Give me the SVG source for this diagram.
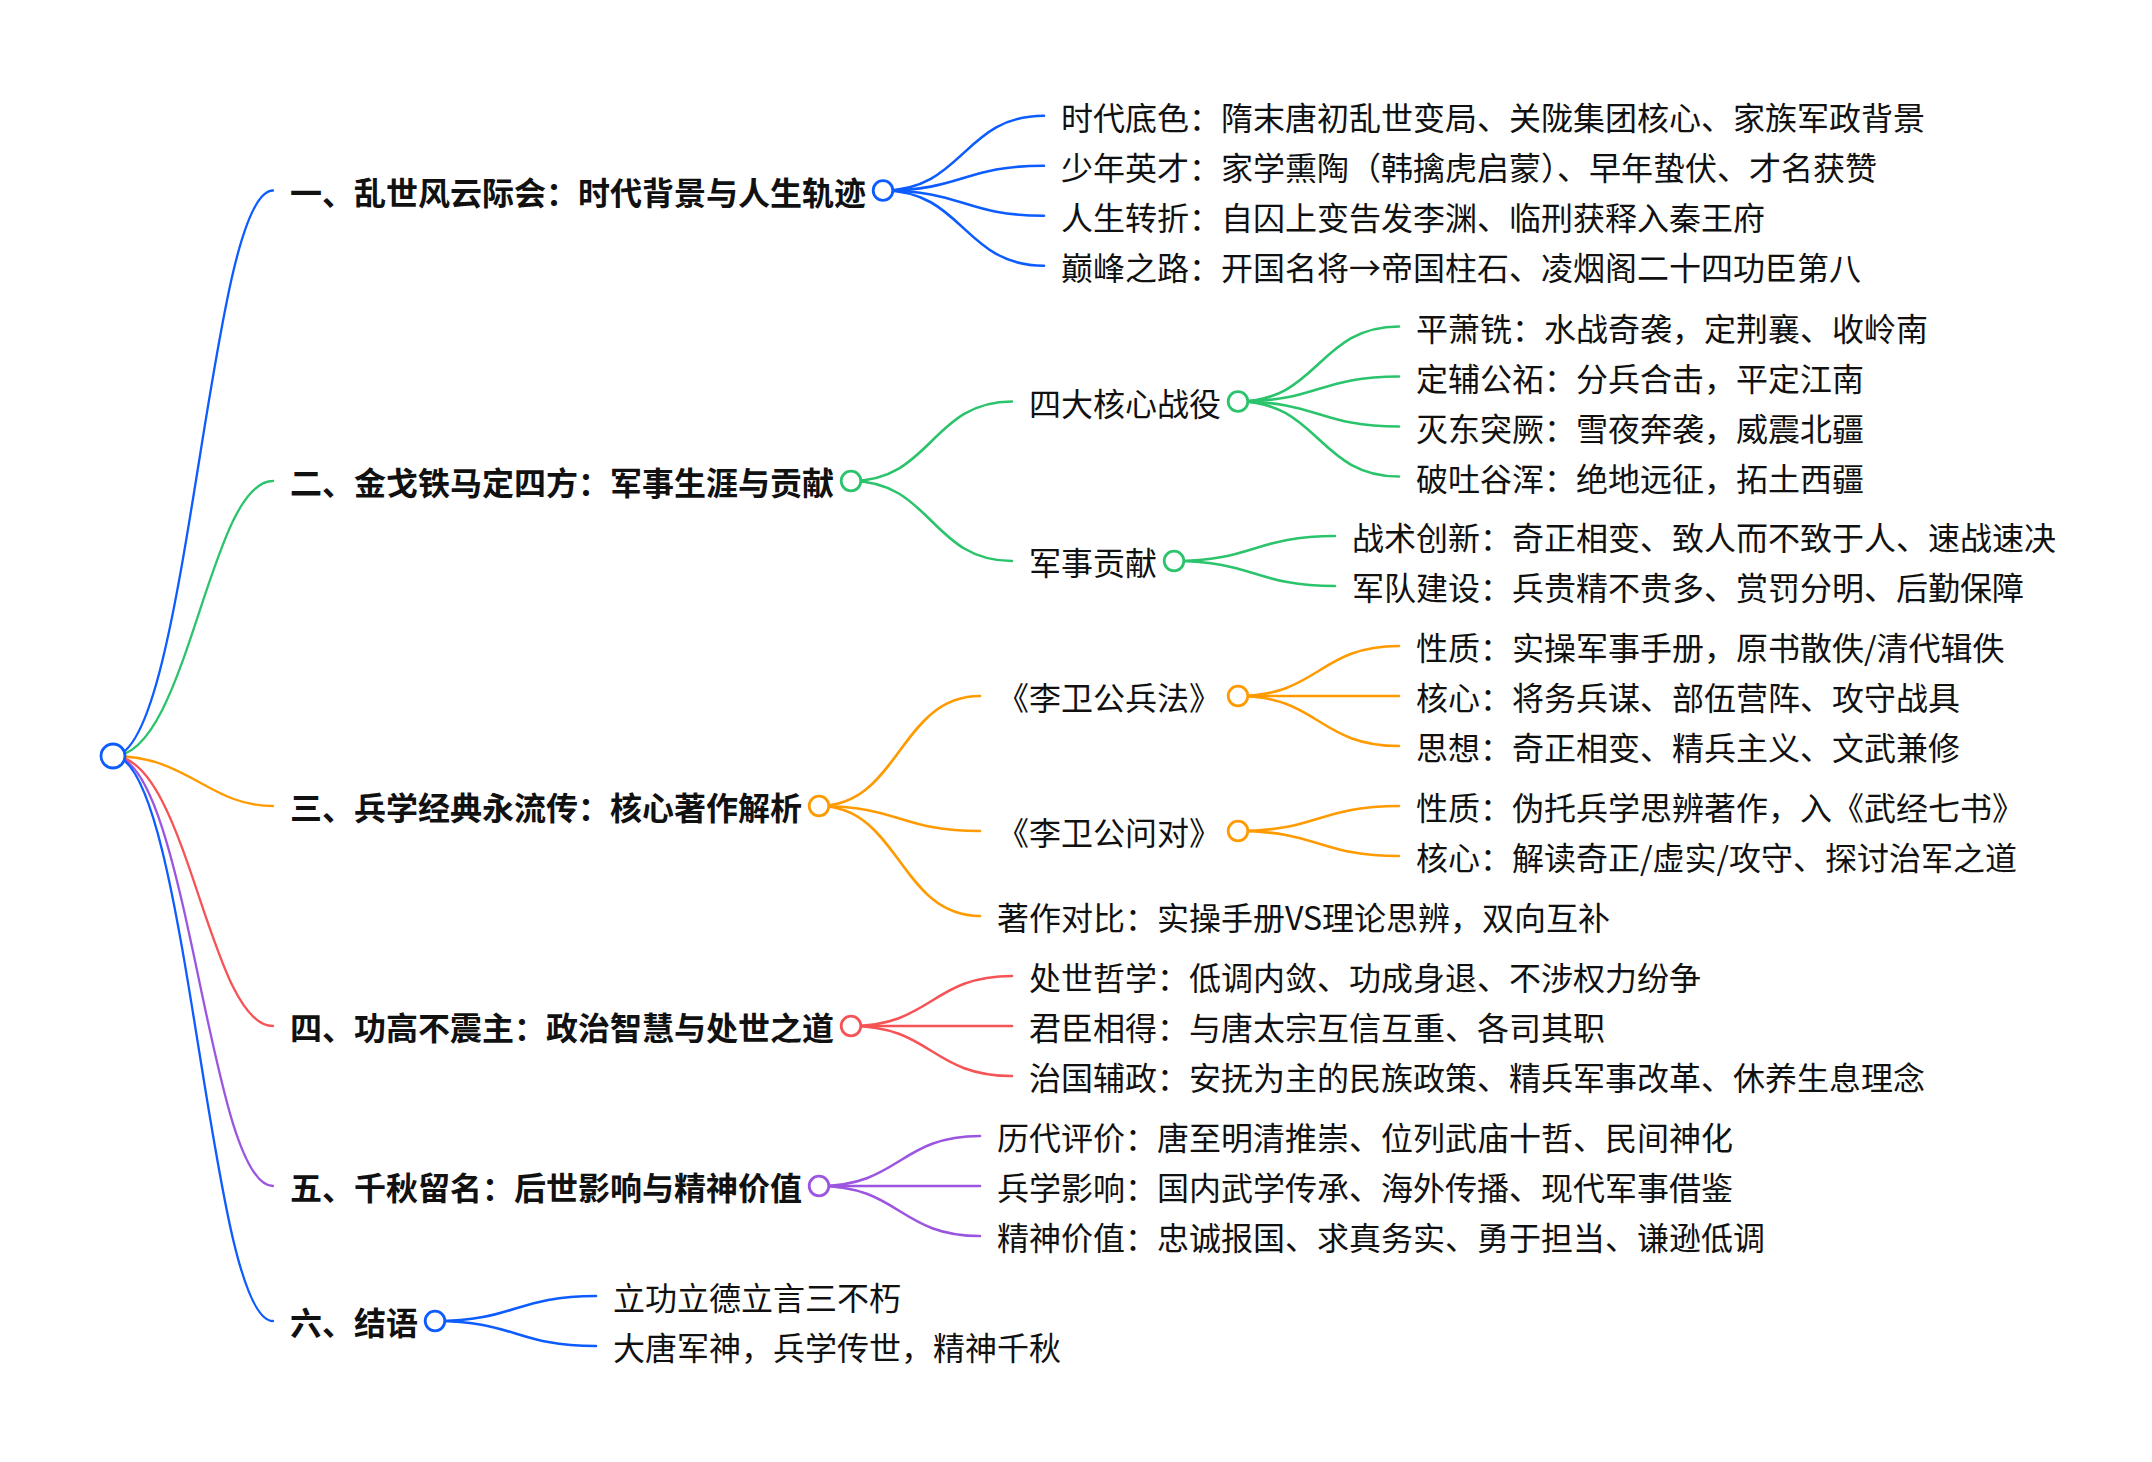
<svg xmlns="http://www.w3.org/2000/svg" width="2152" height="1462" viewBox="0 0 2152 1462">
<style>
text{font-family:"Noto Sans CJK SC","Noto Sans",sans-serif;font-size:32px;fill:#111}
.b{font-weight:700}
path{fill:none;stroke-linecap:round}
.r{stroke-width:2.3}
.l{stroke-width:2.6}
circle{fill:#fff;stroke-width:2.8}
.cb{stroke:#0d5cff}.cg{stroke:#2bc46c}.co{stroke:#ff9a00}.cr{stroke:#f65356}.cp{stroke:#9b55e0}
</style>
<rect width="2152" height="1462" fill="#fff"/>
<g id="connectors">
<path class="r cb" d="M113 756C188 756 209 190.5 273 190.5"/>
<path class="r cg" d="M113 756C188 756 209 481 273 481"/>
<path class="r co" d="M113 756C188 756 209 806 273 806"/>
<path class="r cr" d="M113 756C188 756 209 1026 273 1026"/>
<path class="r cp" d="M113 756C188 756 209 1186 273 1186"/>
<path class="r cb" d="M113 756C188 756 209 1321 273 1321"/>
<path class="l cb" d="M883 190.5C963.5 190.5 963.5 115.7 1044 115.7"/>
<path class="l cb" d="M883 190.5C963.5 190.5 963.5 165.7 1044 165.7"/>
<path class="l cb" d="M883 190.5C963.5 190.5 963.5 215.7 1044 215.7"/>
<path class="l cb" d="M883 190.5C963.5 190.5 963.5 265.7 1044 265.7"/>
<path class="l cg" d="M851 481C931.5 481 931.5 401.5 1012 401.5"/>
<path class="l cg" d="M851 481C931.5 481 931.5 561 1012 561"/>
<path class="l cg" d="M1238 401.5C1318.5 401.5 1318.5 326.5 1399 326.5"/>
<path class="l cg" d="M1238 401.5C1318.5 401.5 1318.5 376.5 1399 376.5"/>
<path class="l cg" d="M1238 401.5C1318.5 401.5 1318.5 426.5 1399 426.5"/>
<path class="l cg" d="M1238 401.5C1318.5 401.5 1318.5 476.5 1399 476.5"/>
<path class="l cg" d="M1174 561C1254.5 561 1254.5 536 1335 536"/>
<path class="l cg" d="M1174 561C1254.5 561 1254.5 586 1335 586"/>
<path class="l co" d="M819 806C899.5 806 899.5 696 980 696"/>
<path class="l co" d="M819 806C899.5 806 899.5 831 980 831"/>
<path class="l co" d="M819 806C899.5 806 899.5 916 980 916"/>
<path class="l co" d="M1238 696C1318.5 696 1318.5 646 1399 646"/>
<path class="l co" d="M1238 696L1399 696"/>
<path class="l co" d="M1238 696C1318.5 696 1318.5 746 1399 746"/>
<path class="l co" d="M1238 831C1318.5 831 1318.5 806 1399 806"/>
<path class="l co" d="M1238 831C1318.5 831 1318.5 856 1399 856"/>
<path class="l cr" d="M851 1026C931.5 1026 931.5 976 1012 976"/>
<path class="l cr" d="M851 1026L1012 1026"/>
<path class="l cr" d="M851 1026C931.5 1026 931.5 1076 1012 1076"/>
<path class="l cp" d="M819 1186C899.5 1186 899.5 1136 980 1136"/>
<path class="l cp" d="M819 1186L980 1186"/>
<path class="l cp" d="M819 1186C899.5 1186 899.5 1236 980 1236"/>
<path class="l cb" d="M435 1321C515.5 1321 515.5 1296 596 1296"/>
<path class="l cb" d="M435 1321C515.5 1321 515.5 1346 596 1346"/>
</g>
<g id="root"><circle class="cb" cx="113" cy="756" r="12"/></g>
<g id="n1"><text class="b" x="290" y="204.5">一、乱世风云际会：时代背景与人生轨迹</text><circle class="cb" cx="883" cy="190.5" r="9.8"/></g>
<g id="n1-1"><text x="1061" y="129.7">时代底色：隋末唐初乱世变局、关陇集团核心、家族军政背景</text></g>
<g id="n1-2"><text x="1061" y="179.7">少年英才：家学熏陶（韩擒虎启蒙）、早年蛰伏、才名获赞</text></g>
<g id="n1-3"><text x="1061" y="229.7">人生转折：自囚上变告发李渊、临刑获释入秦王府</text></g>
<g id="n1-4"><text x="1061" y="279.7">巅峰之路：开国名将→帝国柱石、凌烟阁二十四功臣第八</text></g>
<g id="n2"><text class="b" x="290" y="495">二、金戈铁马定四方：军事生涯与贡献</text><circle class="cg" cx="851" cy="481" r="9.8"/></g>
<g id="n2-1"><text x="1029" y="415.5">四大核心战役</text><circle class="cg" cx="1238" cy="401.5" r="9.8"/></g>
<g id="n2-1-1"><text x="1416" y="340.5">平萧铣：水战奇袭，定荆襄、收岭南</text></g>
<g id="n2-1-2"><text x="1416" y="390.5">定辅公祏：分兵合击，平定江南</text></g>
<g id="n2-1-3"><text x="1416" y="440.5">灭东突厥：雪夜奔袭，威震北疆</text></g>
<g id="n2-1-4"><text x="1416" y="490.5">破吐谷浑：绝地远征，拓土西疆</text></g>
<g id="n2-2"><text x="1029" y="575">军事贡献</text><circle class="cg" cx="1174" cy="561" r="9.8"/></g>
<g id="n2-2-1"><text x="1352" y="550">战术创新：奇正相变、致人而不致于人、速战速决</text></g>
<g id="n2-2-2"><text x="1352" y="600">军队建设：兵贵精不贵多、赏罚分明、后勤保障</text></g>
<g id="n3"><text class="b" x="290" y="820">三、兵学经典永流传：核心著作解析</text><circle class="co" cx="819" cy="806" r="9.8"/></g>
<g id="n3-1"><text x="997" y="710">《李卫公兵法》</text><circle class="co" cx="1238" cy="696" r="9.8"/></g>
<g id="n3-1-1"><text x="1416" y="660">性质：实操军事手册，原书散佚/清代辑佚</text></g>
<g id="n3-1-2"><text x="1416" y="710">核心：将务兵谋、部伍营阵、攻守战具</text></g>
<g id="n3-1-3"><text x="1416" y="760">思想：奇正相变、精兵主义、文武兼修</text></g>
<g id="n3-2"><text x="997" y="845">《李卫公问对》</text><circle class="co" cx="1238" cy="831" r="9.8"/></g>
<g id="n3-2-1"><text x="1416" y="820">性质：伪托兵学思辨著作，入《武经七书》</text></g>
<g id="n3-2-2"><text x="1416" y="870">核心：解读奇正/虚实/攻守、探讨治军之道</text></g>
<g id="n3-3"><text x="997" y="930">著作对比：实操手册VS理论思辨，双向互补</text></g>
<g id="n4"><text class="b" x="290" y="1040">四、功高不震主：政治智慧与处世之道</text><circle class="cr" cx="851" cy="1026" r="9.8"/></g>
<g id="n4-1"><text x="1029" y="990">处世哲学：低调内敛、功成身退、不涉权力纷争</text></g>
<g id="n4-2"><text x="1029" y="1040">君臣相得：与唐太宗互信互重、各司其职</text></g>
<g id="n4-3"><text x="1029" y="1090">治国辅政：安抚为主的民族政策、精兵军事改革、休养生息理念</text></g>
<g id="n5"><text class="b" x="290" y="1200">五、千秋留名：后世影响与精神价值</text><circle class="cp" cx="819" cy="1186" r="9.8"/></g>
<g id="n5-1"><text x="997" y="1150">历代评价：唐至明清推崇、位列武庙十哲、民间神化</text></g>
<g id="n5-2"><text x="997" y="1200">兵学影响：国内武学传承、海外传播、现代军事借鉴</text></g>
<g id="n5-3"><text x="997" y="1250">精神价值：忠诚报国、求真务实、勇于担当、谦逊低调</text></g>
<g id="n6"><text class="b" x="290" y="1335">六、结语</text><circle class="cb" cx="435" cy="1321" r="9.8"/></g>
<g id="n6-1"><text x="613" y="1310">立功立德立言三不朽</text></g>
<g id="n6-2"><text x="613" y="1360">大唐军神，兵学传世，精神千秋</text></g>
</svg>
